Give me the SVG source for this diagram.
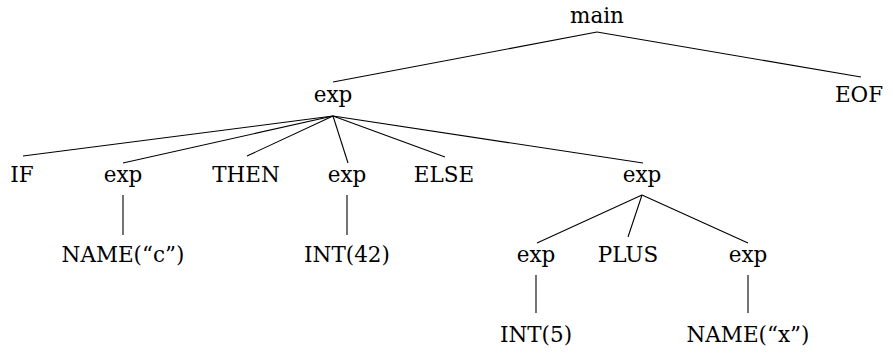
<svg xmlns="http://www.w3.org/2000/svg" width="893" height="353" viewBox="0 0 893 353">
  <style>
    text { font-family: "DejaVu Serif", serif; font-size: 21.5px; fill: #000; text-anchor: middle; }
    .edge { stroke: #000; stroke-width: 1.1; fill: none; }
  </style>
  <rect width="893" height="353" fill="#fff"/>
  <!-- tree edges -->
  <g id="edges">
    <line class="edge" x1="597" y1="32" x2="333" y2="82"/>
    <line class="edge" x1="597" y1="32" x2="861" y2="77"/>
    <line class="edge" x1="333" y1="116" x2="23" y2="156"/>
    <line class="edge" x1="333" y1="116" x2="123" y2="163"/>
    <line class="edge" x1="333" y1="116" x2="247" y2="156"/>
    <line class="edge" x1="333" y1="116" x2="348" y2="163"/>
    <line class="edge" x1="333" y1="116" x2="445" y2="157"/>
    <line class="edge" x1="333" y1="116" x2="643" y2="163"/>
    <line class="edge" x1="123" y1="195" x2="123" y2="235"/>
    <line class="edge" x1="347" y1="195" x2="347" y2="235"/>
    <line class="edge" x1="642" y1="195" x2="537" y2="243"/>
    <line class="edge" x1="642" y1="195" x2="628" y2="237"/>
    <line class="edge" x1="642" y1="195" x2="748" y2="243"/>
    <line class="edge" x1="536" y1="275" x2="536" y2="313"/>
    <line class="edge" x1="748" y1="275" x2="748" y2="313"/>
  </g>
  <!-- tree nodes -->
  <g id="n-main"><text x="597" y="23">main</text></g>
  <g id="n-exp"><text x="333" y="102">exp</text></g>
  <g id="n-eof"><text x="859" y="102">EOF</text></g>
  <g id="n-if"><text x="22" y="182">IF</text></g>
  <g id="n-cond"><text x="123" y="182">exp</text></g>
  <g id="n-then"><text x="246" y="182">THEN</text></g>
  <g id="n-thenexp"><text x="347" y="182">exp</text></g>
  <g id="n-else"><text x="444" y="182">ELSE</text></g>
  <g id="n-elseexp"><text x="642" y="182">exp</text></g>
  <g id="n-name-c"><text x="123" y="262">NAME(“c”)</text></g>
  <g id="n-int42"><text x="347" y="262">INT(42)</text></g>
  <g id="n-lhs"><text x="536" y="262">exp</text></g>
  <g id="n-plus"><text x="628" y="262">PLUS</text></g>
  <g id="n-rhs"><text x="748" y="262">exp</text></g>
  <g id="n-int5"><text x="536" y="342">INT(5)</text></g>
  <g id="n-name-x"><text x="748" y="342">NAME(“x”)</text></g>
</svg>
